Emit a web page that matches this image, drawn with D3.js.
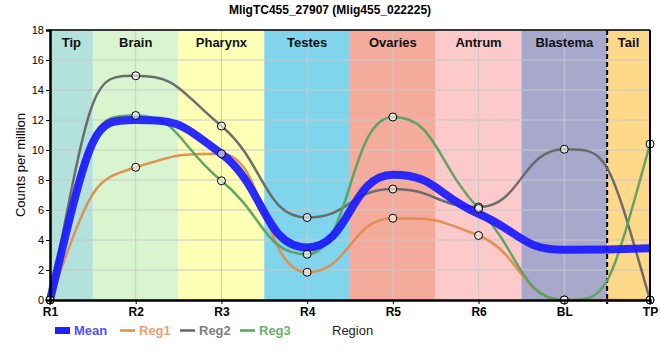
<!DOCTYPE html>
<html><head><meta charset="utf-8">
<script src="https://cdn.jsdelivr.net/npm/d3@7"></script>
<style>body{margin:0;background:#fff;font-family:"Liberation Sans",Arial,sans-serif;}</style>
</head><body>
<svg id="c" width="660" height="360"></svg>
<script>
const regions = ["R1","R2","R3","R4","R5","R6","BL","TP"];
const meanVals = [0, 12.0, 9.75, 3.5, 8.35, 5.75, 3.35, 3.45];
const reg1Vals = [0, 8.85, 9.75, 1.85, 5.45, 4.3, 0, 0];
const reg2Vals = [0, 14.95, 11.6, 5.5, 7.4, 6.2, 10.05, 0];
const reg3Vals = [0, 12.3, 7.95, 3.05, 12.2, 6.1, 0, 10.4];
const bandNames = ["Tip","Brain","Pharynx","Testes","Ovaries","Antrum","Blastema","Tail"];
const bandColors = ["#b3e2dd","#d9f5d0","#ffffb5","#80d4eb","#f4ab9c","#fccaca","#a8a8cd","#fed98a"];
const yTicks = [0,2,4,6,8,10,12,14,16,18];

// Custom d3 curve: monotone slopes, Bezier handles reaching half-way to neighbours
function HalfMonotone(context){ this._context = context; }
HalfMonotone.prototype = {
  areaStart(){ this._line = 0; }, areaEnd(){ this._line = NaN; },
  lineStart(){ this._x = []; this._y = []; },
  point(x, y){ this._x.push(+x); this._y.push(+y); },
  lineEnd(){
    const X = this._x, Y = this._y, n = X.length, c = this._context;
    if (!n) return;
    c.moveTo(X[0], Y[0]);
    if (n === 1) return;
    const s = [];
    for (let i = 0; i < n-1; i++) s.push((Y[i+1]-Y[i])/(X[i+1]-X[i]));
    const t = new Array(n).fill(0);
    for (let i = 1; i < n-1; i++) {
      const h0 = X[i]-X[i-1], h1 = X[i+1]-X[i];
      const p = (s[i-1]*h1 + s[i]*h0)/(h0+h1);
      t[i] = (Math.sign(s[i-1]) + Math.sign(s[i])) * Math.min(Math.abs(s[i-1]), Math.abs(s[i]), 0.5*Math.abs(p)) || 0;
    }
    t[0] = n > 2 ? 2*s[0] - t[1] : s[0];
    t[n-1] = n > 2 ? 2*s[n-2] - t[n-2] : s[n-2];
    for (let i = 0; i < n-1; i++) {
      const h = (X[i+1]-X[i])/2;
      c.bezierCurveTo(X[i]+h, Y[i]+t[i]*h, X[i+1]-h, Y[i+1]-t[i+1]*h, X[i+1], Y[i+1]);
    }
  }
};
const curveHalfMonotone = ctx => new HalfMonotone(ctx);

const svg = d3.select("#c");
const L=50, R=650, T=30, B=300;
const x = d3.scalePoint().domain(regions).range([L,R]);
const y = d3.scaleLinear().domain([0,18]).range([B,T]);
const step = x.step();

// bands
const bands = bandNames.map((n,i)=>{
  const x0 = i===0 ? L : x(regions[i]) - step/2;
  const x1 = i===bandNames.length-1 ? R : x(regions[i]) + step/2;
  return {n, c: bandColors[i], x0, x1};
});
svg.selectAll("rect.band").data(bands).join("rect")
  .attr("x",d=>d.x0).attr("y",T).attr("width",d=>d.x1-d.x0).attr("height",B-T)
  .attr("fill",d=>d.c);

// grid
svg.append("g").selectAll("line").data(yTicks).join("line")
  .attr("x1",L).attr("x2",R).attr("y1",d=>y(d)).attr("y2",d=>y(d))
  .attr("stroke","#c8c8c8").attr("stroke-width",1);
svg.append("g").selectAll("line").data(regions).join("line")
  .attr("x1",d=>x(d)).attr("x2",d=>x(d)).attr("y1",T).attr("y2",B)
  .attr("stroke","#c8c8c8").attr("stroke-width",1);

// band labels
svg.selectAll("text.band").data(bands).join("text")
  .attr("x",d=>(d.x0+d.x1)/2).attr("y",T+17).attr("text-anchor","middle")
  .attr("font-size",13).attr("font-weight","bold").attr("fill","#111").text(d=>d.n);

// dashed line between Blastema and Tail
svg.append("line").attr("x1",bands[7].x0).attr("x2",bands[7].x0).attr("y1",T).attr("y2",B+4)
  .attr("stroke","#000").attr("stroke-width",2).attr("stroke-dasharray","5,3");

// lines
const line = d3.line().x((d,i)=>x(regions[i])).y(d=>y(d)).curve(curveHalfMonotone);
const series = [
  {name:"Reg1", vals:reg1Vals, color:"#e08c4e", lc:"#e8a070"},
  {name:"Reg2", vals:reg2Vals, color:"#666666", lc:"#808080"},
  {name:"Reg3", vals:reg3Vals, color:"#5aa05e", lc:"#6cb070"}
];
series.forEach(s=>{
  svg.append("path").attr("d",line(s.vals)).attr("fill","none")
    .attr("stroke",s.color).attr("stroke-width",2.5).attr("stroke-opacity",0.95);
});
svg.append("path").attr("d",line(meanVals)).attr("fill","none")
  .attr("stroke","#1a1aff").attr("stroke-width",8).attr("stroke-opacity",0.92);

// points
series.forEach(s=>{
  svg.append("g").selectAll("circle").data(s.vals).join("circle")
    .attr("cx",(d,i)=>x(regions[i])).attr("cy",d=>y(d)).attr("r",4)
    .attr("fill","#ffffff").attr("fill-opacity",0.6).attr("stroke","#000").attr("stroke-width",1);
});

// axes
const ya = svg.append("g").attr("transform",`translate(${L},0)`)
  .call(d3.axisLeft(y).tickValues(yTicks).tickSize(4).tickPadding(2));
ya.select(".domain").attr("stroke-width",2.5);
ya.selectAll("text").attr("font-size",11).attr("font-family","Liberation Sans, Arial, sans-serif");
const xa = svg.append("g").attr("transform",`translate(0,${B})`)
  .call(d3.axisBottom(x).tickSize(4).tickPadding(3));
xa.select(".domain").attr("stroke-width",2.5);
xa.selectAll("text").attr("font-size",12).attr("font-weight","bold").attr("font-family","Liberation Sans, Arial, sans-serif");
// right & top border
svg.append("line").attr("x1",R).attr("x2",R).attr("y1",T).attr("y2",B).attr("stroke","#000").attr("stroke-width",2);
svg.append("line").attr("x1",L).attr("x2",R).attr("y1",T).attr("y2",T).attr("stroke","#000").attr("stroke-width",1.5);

// title
svg.append("text").attr("x",330).attr("y",14).attr("text-anchor","middle")
  .attr("font-size",12).attr("font-weight","bold").text("MligTC455_27907 (Mlig455_022225)");
// y label
svg.append("text").attr("transform","translate(25,165) rotate(-90)").attr("text-anchor","middle")
  .attr("font-size",13).text("Counts per million");
// x label
svg.append("text").attr("x",332).attr("y",335).attr("font-size",13).attr("fill","#222").text("Region");

// legend
const lg = svg.append("g");
lg.append("rect").attr("x",55).attr("y",327).attr("width",15).attr("height",7).attr("fill","#2020ff");
lg.append("text").attr("x",74).attr("y",335).attr("font-size",13).attr("font-weight","bold").attr("fill","#5050ff").text("Mean");
series.forEach((s,i)=>{
  const x0 = 120 + i*60;
  lg.append("line").attr("x1",x0).attr("x2",x0+15).attr("y1",330.5).attr("y2",330.5)
    .attr("stroke",s.color).attr("stroke-width",2.5);
  lg.append("text").attr("x",x0+19).attr("y",335).attr("font-size",13).attr("font-weight","bold").attr("fill",s.lc).text(s.name);
});
</script>
</body></html>
